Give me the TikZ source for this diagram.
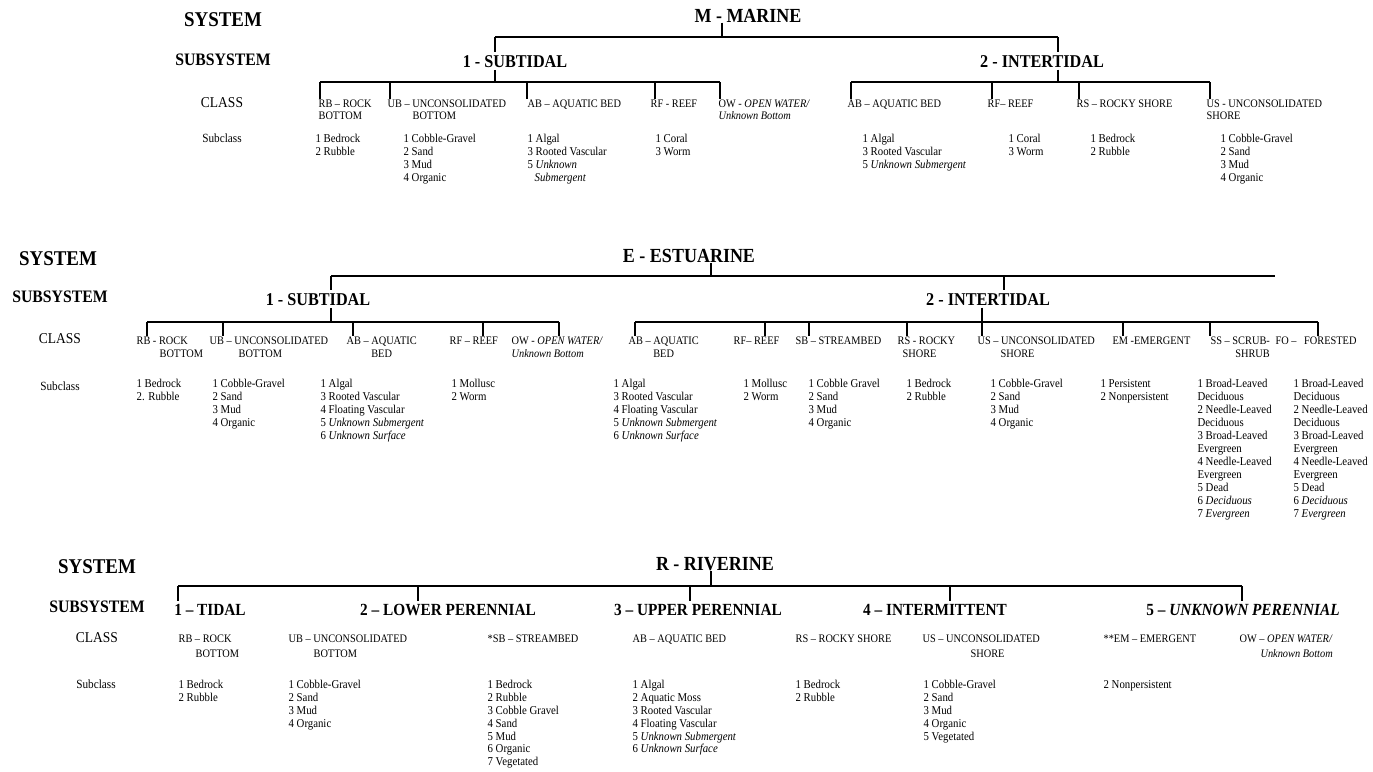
\documentclass[tikz,border=0pt]{standalone}
\usepackage{fontspec}
\setmainfont{Liberation Serif}[FakeStretch=0.9]
\begin{document}
\begin{tikzpicture}[x=1pt, y=-1pt, line width=1.2pt,
    every node/.style={inner sep=0pt},
    syshead/.style={font=\bfseries\fontsize{20}{20}\selectfont, anchor=base},
    rowbig/.style={font=\bfseries\fontsize{21}{21}\selectfont, anchor=base},
    rowsub/.style={font=\bfseries\fontsize{17.5}{17.5}\selectfont, anchor=base},
    rowcls/.style={font=\fontsize{15}{15}\selectfont, anchor=base},
    rowsc/.style={font=\fontsize{12.5}{12.5}\selectfont, anchor=base},
    subsys/.style={font=\bfseries\fontsize{#1}{#1}\selectfont, anchor=base, inner sep=2pt},
    subsys/.default=18,
    clsbox/.style={font=\fontsize{11.5}{#1}\selectfont, align=left, anchor=north west},
    clsbox/.default=13,
    sclist/.style={font=\fontsize{12}{#1}\selectfont, align=left, anchor=north west},
    sclist/.default=13]
    \useasboundingbox (0,0) rectangle (1373,771);

    % ---------------- Marine ----------------
    \node[rowbig] (msys) at (223,27) {SYSTEM};
    \node[rowsub] (msubsys) at (223,65) {SUBSYSTEM};
    \node[rowcls] (mclass) at (222,107) {CLASS};
    \node[rowsc] (msubcl) at (222,142) {Subclass};

    \node[syshead] (marine) at (748,22) {M - MARINE};
    \node[subsys] (msub) at (515,67) {1 - SUBTIDAL};
    \node[subsys] (mint) at (1042,67) {2 - INTERTIDAL};

    \coordinate (mj) at (722,37);
    \coordinate (mtop1) at (495,37);
    \coordinate (mtop2) at (1058,37);
    \draw (marine.south -| mj) -- (mj);
    \draw (mtop1) -- (mtop2);
    \draw (mtop1) -- (mtop1 |- msub.north);
    \draw (mtop2) -- (mtop2 |- mint.north);

    % subtidal classes
    \coordinate (mc1) at (320,82);
    \coordinate (mc2) at (390,82);
    \coordinate (mc3) at (527,82);
    \coordinate (mc4) at (655,82);
    \coordinate (mc5) at (720,82);
    \draw (msub.south -| mtop1) -- (mtop1 |- mc1);
    \draw (mc1) -- (mc5);

    \node[clsbox=12] (mrb) at (318,99) {RB -- ROCK\\BOTTOM};
    \node[clsbox=12] (mub) at (387,99) {UB -- UNCONSOLIDATED\\\hspace*{25pt}BOTTOM};
    \node[clsbox=12] (mab) at (527,99) {AB -- AQUATIC BED};
    \node[clsbox=12] (mrf) at (650,99) {RF - REEF};
    \node[clsbox=12] (mow) at (718,99) {OW - \textit{OPEN WATER/}\\\textit{Unknown Bottom}};

    \draw (mc1) -- (mc1 |- mrb.north);
    \draw (mc2) -- (mc2 |- mub.north);
    \draw (mc3) -- (mc3 |- mab.north);
    \draw (mc4) -- (mc4 |- mrf.north);
    \draw (mc5) -- (mc5 |- mow.north);

    % intertidal classes
    \coordinate (mi1) at (851,82);
    \coordinate (mi2) at (992,82);
    \coordinate (mi3) at (1079,82);
    \coordinate (mi4) at (1210,82);
    \draw (mint.south -| mtop2) -- (mtop2 |- mi1);
    \draw (mi1) -- (mi4);

    \node[clsbox=12] (mab2) at (847,99) {AB -- AQUATIC BED};
    \node[clsbox=12] (mrf2) at (987,99) {RF-- REEF};
    \node[clsbox=12] (mrs) at (1076,99) {RS -- ROCKY SHORE};
    \node[clsbox=12] (mus) at (1206,99) {US - UNCONSOLIDATED\\SHORE};

    \draw (mi1) -- (mi1 |- mab2.north);
    \draw (mi2) -- (mi2 |- mrf2.north);
    \draw (mi3) -- (mi3 |- mrs.north);
    \draw (mi4) -- (mi4 |- mus.north);

    % subclasses
    \node[sclist] (mrbl) at (315,134) {1 Bedrock\\2 Rubble};
    \node[sclist] (mubl) at (403,134) {1 Cobble-Gravel\\2 Sand\\3 Mud\\4 Organic};
    \node[sclist] (mabl) at (527,134) {1 Algal\\3 Rooted Vascular\\5 \textit{Unknown}\\\hspace*{7pt}\textit{Submergent}};
    \node[sclist] (mrfl) at (655,134) {1 Coral\\3 Worm};
    \node[sclist] (mab2l) at (862,134) {1 Algal\\3 Rooted Vascular\\5 \textit{Unknown Submergent}};
    \node[sclist] (mrf2l) at (1008,134) {1 Coral\\3 Worm};
    \node[sclist] (mrsl) at (1090,134) {1 Bedrock\\2 Rubble};
    \node[sclist] (musl) at (1220,134) {1 Cobble-Gravel\\2 Sand\\3 Mud\\4 Organic};

    % ---------------- Estuarine ----------------
    \node[rowbig] (esys) at (58,265) {SYSTEM};
    \node[rowsub] (esubsys) at (60,302) {SUBSYSTEM};
    \node[rowcls] (eclass) at (60,343) {CLASS};
    \node[rowsc] (esubcl) at (60,390) {Subclass};

    \node[syshead] (estuarine) at (689,262) {E - ESTUARINE};
    \node[subsys] (esub) at (318,305) {1 - SUBTIDAL};
    \node[subsys] (eint) at (988,305) {2 - INTERTIDAL};

    \coordinate (ej) at (711,276);
    \coordinate (etop1) at (331,276);
    \coordinate (etop2) at (1004,276);
    \coordinate (eend) at (1275,276);
    \draw (estuarine.south -| ej) -- (ej);
    \draw (etop1) -- (eend);
    \draw (etop1) -- (etop1 |- esub.north);
    \draw (etop2) -- (etop2 |- eint.north);

    % subtidal classes
    \coordinate (ec1) at (147,322);
    \coordinate (ec2) at (223,322);
    \coordinate (ec3) at (353,322);
    \coordinate (ec4) at (483,322);
    \coordinate (ec5) at (559,322);
    \draw (esub.south -| etop1) -- (etop1 |- ec1);
    \draw (ec1) -- (ec5);

    \node[clsbox] (erb) at (136,336) {RB - ROCK\\\hspace*{23pt}BOTTOM};
    \node[clsbox] (eub) at (209,336) {UB -- UNCONSOLIDATED\\\hspace*{29pt}BOTTOM};
    \node[clsbox, align=center] (eab) at (346,336) {AB -- AQUATIC\\BED};
    \node[clsbox] (erf) at (449,336) {RF -- REEF};
    \node[clsbox] (eow) at (511,336) {OW - \textit{OPEN WATER/}\\\textit{Unknown Bottom}};

    \draw (ec1) -- (ec1 |- erb.north);
    \draw (ec2) -- (ec2 |- eub.north);
    \draw (ec3) -- (ec3 |- eab.north);
    \draw (ec4) -- (ec4 |- erf.north);
    \draw (ec5) -- (ec5 |- eow.north);

    % intertidal classes
    \coordinate (ei1) at (635,322);
    \coordinate (ei2) at (765,322);
    \coordinate (ei3) at (809,322);
    \coordinate (ei4) at (907,322);
    \coordinate (ei5) at (982,322);
    \coordinate (ei6) at (1123,322);
    \coordinate (ei7) at (1210,322);
    \coordinate (ei8) at (1318,322);
    \draw (eint.south -| ei5) -- (ei5);
    \draw (ei1) -- (ei8);

    \node[clsbox, align=center] (eab2) at (628,336) {AB -- AQUATIC\\BED};
    \node[clsbox] (erf2) at (733,336) {RF-- REEF};
    \node[clsbox] (esb) at (795,336) {SB -- STREAMBED};
    \node[clsbox] (ers) at (897,336) {RS - ROCKY\\\hspace*{5pt}SHORE};
    \node[clsbox] (eus) at (977,336) {US -- UNCONSOLIDATED\\\hspace*{23pt}SHORE};
    \node[clsbox] (eem) at (1112,336) {EM -EMERGENT};
    \node[clsbox, align=right] (ess) at (1210,336) {SS -- SCRUB-\\SHRUB};
    \node[clsbox] (efo) at (1275,336) {FO --\hspace{5pt} FORESTED};

    \draw (ei1) -- (ei1 |- eab2.north);
    \draw (ei2) -- (ei2 |- erf2.north);
    \draw (ei3) -- (ei3 |- esb.north);
    \draw (ei4) -- (ei4 |- ers.north);
    \draw (ei5) -- (ei5 |- eus.north);
    \draw (ei6) -- (ei6 |- eem.north);
    \draw (ei7) -- (ei7 |- ess.north);
    \draw (ei8) -- (ei8 |- efo.north);

    % subclasses
    \node[sclist] (erbl) at (136,379) {1 Bedrock\\2. Rubble};
    \node[sclist] (eubl) at (212,379) {1 Cobble-Gravel\\2 Sand\\3 Mud\\4 Organic};
    \node[sclist] (eabl) at (320,379) {1 Algal\\3 Rooted Vascular\\4 Floating Vascular\\5 \textit{Unknown Submergent}\\6 \textit{Unknown Surface}};
    \node[sclist] (erfl) at (451,379) {1 Mollusc\\2 Worm};
    \node[sclist] (eab2l) at (613,379) {1 Algal\\3 Rooted Vascular\\4 Floating Vascular\\5 \textit{Unknown Submergent}\\6 \textit{Unknown Surface}};
    \node[sclist] (erf2l) at (743,379) {1 Mollusc\\2 Worm};
    \node[sclist] (esbl) at (808,379) {1 Cobble Gravel\\2 Sand\\3 Mud\\4 Organic};
    \node[sclist] (ersl) at (906,379) {1 Bedrock\\2 Rubble};
    \node[sclist] (eusl) at (990,379) {1 Cobble-Gravel\\2 Sand\\3 Mud\\4 Organic};
    \node[sclist] (eeml) at (1100,379) {1 Persistent\\2 Nonpersistent};
    \node[sclist] (essl) at (1197,379) {1 Broad-Leaved\\Deciduous\\2 Needle-Leaved\\Deciduous\\3 Broad-Leaved\\Evergreen\\4 Needle-Leaved\\Evergreen\\5 Dead\\6 \textit{Deciduous}\\7 \textit{Evergreen}};
    \node[sclist] (efol) at (1293,379) {1 Broad-Leaved\\Deciduous\\2 Needle-Leaved\\Deciduous\\3 Broad-Leaved\\Evergreen\\4 Needle-Leaved\\Evergreen\\5 Dead\\6 \textit{Deciduous}\\7 \textit{Evergreen}};

    % ---------------- Riverine ----------------
    \node[rowbig] (rsys) at (97,573) {SYSTEM};
    \node[rowsub] (rsubsys) at (97,612) {SUBSYSTEM};
    \node[rowcls] (rclass) at (97,642) {CLASS};
    \node[rowsc] (rsubcl) at (96,688) {Subclass};

    \node[syshead] (riverine) at (715,570) {R - RIVERINE};
    \node[subsys=17] (rtid) at (210,615) {1 -- TIDAL};
    \node[subsys=17] (rlow) at (448,615) {2 -- LOWER PERENNIAL};
    \node[subsys=17] (rupp) at (698,615) {3 -- UPPER PERENNIAL};
    \node[subsys=17] (rint) at (935,615) {4 -- INTERMITTENT};
    \node[subsys=17] (runk) at (1243,615) {5 -- \textit{UNKNOWN PERENNIAL}};

    \coordinate (rj) at (711,586);
    \coordinate (rs1) at (178,586);
    \coordinate (rs2) at (418,586);
    \coordinate (rs3) at (690,586);
    \coordinate (rs4) at (950,586);
    \coordinate (rs5) at (1242,586);
    \draw (riverine.south -| rj) -- (rj);
    \draw (rs1) -- (rs5);
    \draw (rs1) -- (rs1 |- rtid.north);
    \draw (rs2) -- (rs2 |- rlow.north);
    \draw (rs3) -- (rs3 |- rupp.north);
    \draw (rs4) -- (rs4 |- rint.north);
    \draw (rs5) -- (rs5 |- runk.north);

    % classes
    \node[clsbox=15] (rrb) at (178,634) {RB -- ROCK\\\hspace*{17pt}BOTTOM};
    \node[clsbox=15] (rub) at (288,634) {UB -- UNCONSOLIDATED\\\hspace*{25pt}BOTTOM};
    \node[clsbox=15] (rsb) at (487,634) {*SB -- STREAMBED};
    \node[clsbox=15] (rab) at (632,634) {AB -- AQUATIC BED};
    \node[clsbox=15] (rrs) at (795,634) {RS -- ROCKY SHORE};
    \node[clsbox=15] (rus) at (922,634) {US -- UNCONSOLIDATED\\\hspace*{48pt}SHORE};
    \node[clsbox=15] (rem) at (1103,634) {**EM -- EMERGENT};
    \node[clsbox=15, align=right] (row) at (1239,634) {OW -- \textit{OPEN WATER/}\\\textit{Unknown Bottom}};

    % subclasses
    \node[sclist=12.8] (rrbl) at (178,680) {1 Bedrock\\2 Rubble};
    \node[sclist=12.8] (rubl) at (288,680) {1 Cobble-Gravel\\2 Sand\\3 Mud\\4 Organic};
    \node[sclist=12.8] (rsbl) at (487,680) {1 Bedrock\\2 Rubble\\3 Cobble Gravel\\4 Sand\\5 Mud\\6 Organic\\7 Vegetated};
    \node[sclist=12.8] (rabl) at (632,680) {1 Algal\\2 Aquatic Moss\\3 Rooted Vascular\\4 Floating Vascular\\5 \textit{Unknown Submergent}\\6 \textit{Unknown Surface}};
    \node[sclist=12.8] (rrsl) at (795,680) {1 Bedrock\\2 Rubble};
    \node[sclist=12.8] (rusl) at (923,680) {1 Cobble-Gravel\\2 Sand\\3 Mud\\4 Organic\\5 Vegetated};
    \node[sclist=12.8] (reml) at (1103,680) {2 Nonpersistent};
\end{tikzpicture}
\end{document}
